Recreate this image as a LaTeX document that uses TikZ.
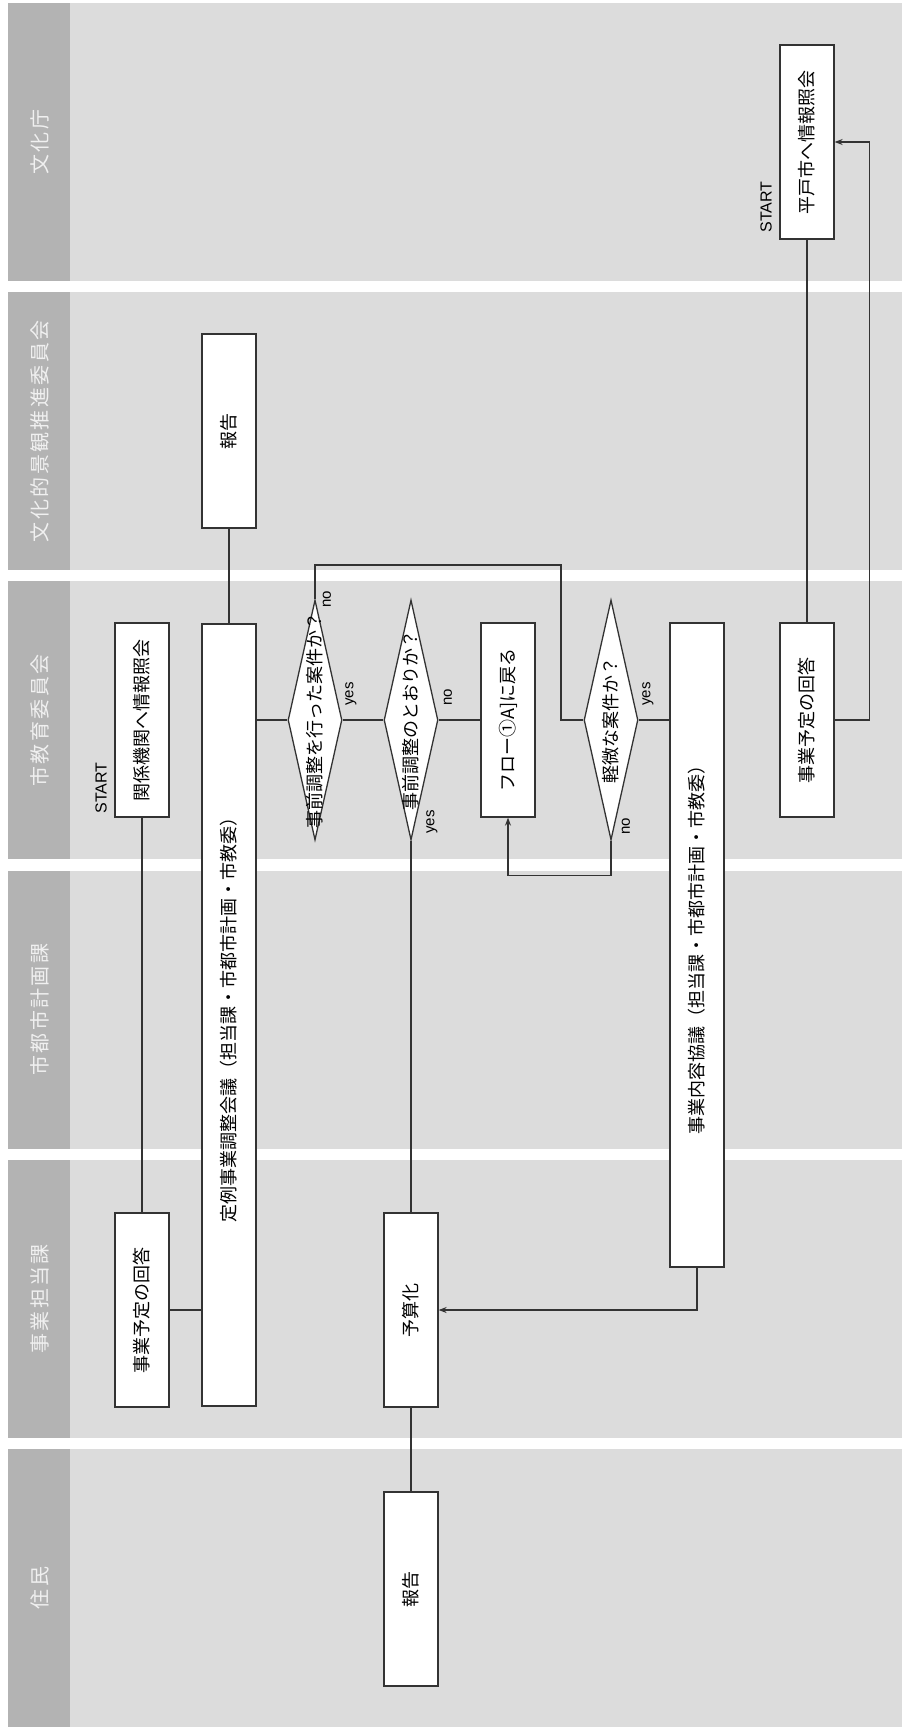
\documentclass[tikz,border=0pt]{standalone}
\usepackage{fontspec}
\usepackage{graphicx}
\setmainfont{Liberation Sans}
\newfontfamily\jpfont{Noto Sans CJK JP}
\newfontfamily\lanefont[LetterSpace=12]{Noto Sans CJK JP}
\usetikzlibrary{arrows.meta,shapes.geometric}
\definecolor{lanebg}{HTML}{DCDCDC}
\definecolor{headbg}{HTML}{B3B3B3}
\definecolor{linecol}{HTML}{333333}
\newcommand{\vt}[1]{\rotatebox{90}{#1}}
\newcommand{\jpbox}{\jpfont\fontsize{18}{18}\selectfont}
\tikzset{
  box/.style={draw=linecol, line width=1.3pt, fill=white, minimum width=54pt,
    minimum height=194pt, inner sep=0pt, font=\jpbox},
  decide/.style={diamond, draw=linecol, line width=1.3pt, fill=white,
    minimum width=54pt, minimum height=240pt, inner sep=0pt},
  jptext/.style={font=\jpbox},
  lanelabel/.style={text=white!94!black, font=\lanefont\fontsize{20}{20}\selectfont},
  lbl/.style={font=\fontsize{15}{15}\selectfont, rotate=90, inner sep=0pt}
}
\begin{document}
\begin{tikzpicture}[x=1pt, y=-1pt, line width=1.1pt, >={Stealth[length=8pt,width=6pt]}]
\useasboundingbox (0,0) rectangle (902,1729);
% Swim lanes
\foreach \name [count=\i] in {文化庁,文化的景観推進委員会,市教育委員会,市都市計画課,事業担当課,住民}{
  \pgfmathsetmacro{\lanetop}{3+(\i-1)*289.2}
  \fill[lanebg] (8,\lanetop) rectangle (902,\lanetop+278);
  \fill[headbg] (8,\lanetop) rectangle (70,\lanetop+278);
  \node[lanelabel] (lane\i) at (40,\lanetop+139) {\vt{\name}};
}
% Boxes
\node[box] (req) at (807,142) {\vt{平戸市へ情報照会}};
\node[box] (rep2) at (229,431) {\vt{報告}};
\node[box] (inq) at (142,720) {\vt{関係機関へ情報照会}};
\node[box, minimum height=782pt] (meet) at (229,1015) {\vt{定例事業調整会議（担当課・市都市計画・市教委）}};
\node[box] (flow) at (508,720) {\vt{フロー①A]に戻る}};
\node[box, minimum height=644pt] (talk) at (697,945) {\vt{事業内容協議（担当課・市都市計画・市教委）}};
\node[box] (ans1) at (807,720) {\vt{事業予定の回答}};
\node[box] (ans2) at (142,1310) {\vt{事業予定の回答}};
\node[box] (budget) at (411,1310) {\vt{予算化}};
\node[box] (rep6) at (411,1589) {\vt{報告}};
% Decisions
\node[decide, label={[jptext]center:\vt{事前調整を行った案件か？}}] (d1) at (315,720) {};
\node[decide, label={[jptext]center:\vt{事前調整のとおりか？}}] (d2) at (411,720) {};
\node[decide, label={[jptext]center:\vt{軽微な案件か？}}] (d3) at (611,720) {};
% Start marks
\node[lbl, font=\fontsize{16}{16}\selectfont] (start1) at (766,207) {START};
\node[lbl, font=\fontsize{16}{16}\selectfont] (start2) at (101,788) {START};
% Connectors
\draw[draw=linecol] (req.south) -- (ans1.north);
\draw[draw=linecol, ->] (ans1.east) -- ++(35,0) |- (req.east);
\draw[draw=linecol] (inq.south) -- (ans2.north);
\draw[draw=linecol] (ans2.east) -- (ans2.east -| meet.west);
\draw[draw=linecol] (meet.north) -- (rep2.south);
\draw[draw=linecol] (meet.east |- d1.west) -- (d1.west);
\draw[draw=linecol] (d1.east) -- (d2.west);
\draw[draw=linecol] (d2.east) -- (flow.west);
\draw[draw=linecol] (d2.south) -- (budget.north);
\coordinate (back) at (561,565);
\draw[draw=linecol] (d1.north) |- (back) |- (d3.west);
\draw[draw=linecol] (d3.east) -- (d3.east -| talk.west);
\draw[draw=linecol, ->] (d3.south) -- ++(0,35) -| (flow.south);
\draw[draw=linecol, ->] (talk.south) |- (budget.east);
\draw[draw=linecol] (budget.south) -- (rep6.north);
% yes / no
\node[lbl] (yes1) at ([shift={(36,-26)}]d1.center) {yes};
\node[lbl] (no1) at ([shift={(12,-121)}]d1.center) {no};
\node[lbl] (no2) at ([shift={(37,-23)}]d2.center) {no};
\node[lbl] (yes2) at ([shift={(21,102)}]d2.center) {yes};
\node[lbl] (yes3) at ([shift={(37,-26)}]d3.center) {yes};
\node[lbl] (no3) at ([shift={(15,106)}]d3.center) {no};
\end{tikzpicture}
\end{document}
